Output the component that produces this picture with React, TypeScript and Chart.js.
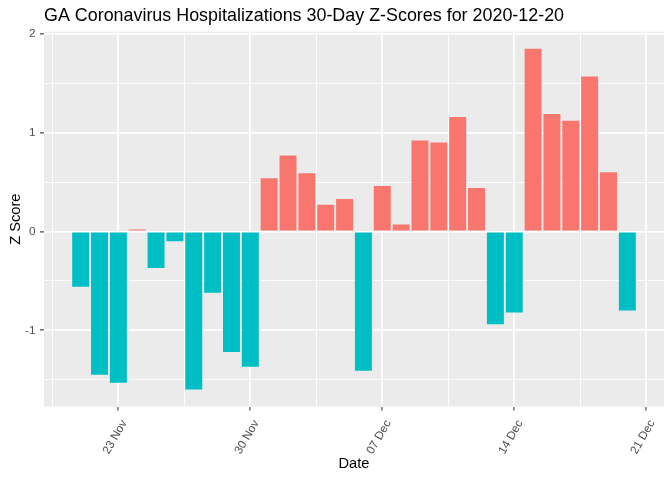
import React, { useEffect, useRef } from "react";
import { Chart, registerables } from "chart.js";

Chart.register(...registerables);

const TITLE = "GA Coronavirus Hospitalizations 30-Day Z-Scores for 2020-12-20";
const START_DATE = "2020-11-21";
const dates: string[] = [
  "2020-11-21", "2020-11-22", "2020-11-23", "2020-11-24", "2020-11-25",
  "2020-11-26", "2020-11-27", "2020-11-28", "2020-11-29", "2020-11-30",
  "2020-12-01", "2020-12-02", "2020-12-03", "2020-12-04", "2020-12-05",
  "2020-12-06", "2020-12-07", "2020-12-08", "2020-12-09", "2020-12-10",
  "2020-12-11", "2020-12-12", "2020-12-13", "2020-12-14", "2020-12-15",
  "2020-12-16", "2020-12-17", "2020-12-18", "2020-12-19", "2020-12-20",
];
const zScores: number[] = [
  -0.56, -1.45, -1.53, 0.02, -0.37,
  -0.10, -1.60, -0.62, -1.22, -1.37,
  0.54, 0.77, 0.59, 0.27, 0.33,
  -1.41, 0.46, 0.07, 0.92, 0.90,
  1.16, 0.44, -0.94, -0.82, 1.85,
  1.19, 1.12, 1.57, 0.60, -0.80,
];
const xTickDates: string[] = ["2020-11-23", "2020-11-30", "2020-12-07", "2020-12-14", "2020-12-21"];
const xTickLabels: string[] = ["23 Nov", "30 Nov", "07 Dec", "14 Dec", "21 Dec"];
const yTickValues: number[] = [-1.5, -1, -0.5, 0, 0.5, 1, 1.5, 2];
const yTickLabels: string[] = ["", "-1", "", "0", "", "1", "", "2"];

const POS_COLOR = "#F8766D";
const NEG_COLOR = "#00BFC4";

const DAY = 86400000;
const dayIndex = (d: string) =>
  Math.round((Date.parse(d + "T00:00:00Z") - Date.parse(START_DATE + "T00:00:00Z")) / DAY);

export default function App() {
  const ref = useRef<HTMLCanvasElement | null>(null);

  useEffect(() => {
    if (!ref.current) return;
    Chart.defaults.font.family = "'Liberation Sans', Arial, sans-serif";

    const xs = dates.map(dayIndex);
    const points = xs.map((x, i) => ({ x, y: zScores[i] }));
    const barHalf = 0.45;
    const xLo = Math.min(...xs) - barHalf;
    const xHi = Math.max(...xs) + barHalf;
    const xPad = (xHi - xLo) * 0.05;
    const yLo = Math.min(0, ...zScores);
    const yHi = Math.max(0, ...zScores);
    const yPad = (yHi - yLo) * 0.05;

    const majorX = xTickDates.map(dayIndex);
    const minorX: number[] = [];
    for (let i = 0; i < majorX.length; i++) {
      const m = majorX[i] - 3.5;
      if (m > xLo - xPad) minorX.push(m);
    }
    const xTickVals = [...majorX, ...minorX].sort((a, b) => a - b);
    const xLabelFor = (v: number) => {
      const k = majorX.indexOf(v);
      return k >= 0 ? xTickLabels[k] : "";
    };
    const yLabelFor = (v: number) => {
      const k = yTickValues.indexOf(v);
      return k >= 0 ? yTickLabels[k] : "";
    };

    const panelBg = {
      id: "panelBg",
      beforeDraw(chart: any) {
        const { ctx, chartArea, width, height } = chart;
        ctx.save();
        ctx.fillStyle = "#FFFFFF";
        ctx.fillRect(0, 0, width, height);
        ctx.fillStyle = "#EBEBEB";
        ctx.fillRect(chartArea.left, chartArea.top, chartArea.right - chartArea.left, chartArea.bottom - chartArea.top);
        ctx.restore();
      },
    };

    const chart = new Chart(ref.current, {
      type: "bar",
      data: {
        datasets: [
          {
            data: points as any,
            backgroundColor: zScores.map((v) => (v > 0 ? POS_COLOR : NEG_COLOR)),
            borderWidth: 0,
            barPercentage: 0.9,
            categoryPercentage: 1,
          },
        ],
      },
      options: {
        responsive: false,
        animation: false,
        devicePixelRatio: 1,
        layout: { padding: { left: 0, right: 8, top: 0, bottom: 0 } },
        plugins: {
          legend: { display: false },
          tooltip: { enabled: false },
          title: {
            display: true,
            text: TITLE,
            align: "start",
            fullSize: false,
            color: "#000000",
            font: { size: 17.9, weight: "normal" },
            padding: { top: 5.3, bottom: 4.9 },
          },
        },
        scales: {
          x: {
            type: "linear",
            min: xLo - xPad,
            max: xHi + xPad,
            offset: false,
            border: { display: false },
            grid: {
              offset: false,
              color: "#FFFFFF",
              lineWidth: (c: any) => (majorX.includes(c.tick?.value) ? 1.8 : 0.9),
              drawTicks: true,
              tickLength: 4,
              tickColor: (c: any) => (majorX.includes(c.tick?.value) ? "#333333" : "rgba(0,0,0,0)"),
              tickWidth: 1.1,
            },
            afterBuildTicks: (scale: any) => {
              scale.ticks = xTickVals.map((v) => ({ value: v }));
            },
            afterFit: (scale: any) => {
              scale.height = 73.4;
            },
            ticks: {
              autoSkip: false,
              minRotation: 60,
              maxRotation: 60,
              padding: 7,
              labelOffset: 6,
              color: "#4D4D4D",
              font: { size: 11.7 },
              callback: (v: any) => xLabelFor(Number(v)),
            },
            title: {
              display: true,
              text: "Date",
              color: "#000000",
              font: { size: 14.67 },
              padding: { top: 0, bottom: 7.2 },
            },
          },
          y: {
            type: "linear",
            min: yLo - yPad,
            max: yHi + yPad,
            border: { display: false },
            grid: {
              color: "#FFFFFF",
              lineWidth: (c: any) => (Number.isInteger(c.tick?.value) ? 1.8 : 0.9),
              drawTicks: true,
              tickLength: 4,
              tickColor: (c: any) => (Number.isInteger(c.tick?.value) ? "#333333" : "rgba(0,0,0,0)"),
              tickWidth: 1.1,
            },
            afterBuildTicks: (scale: any) => {
              scale.ticks = yTickValues.map((v) => ({ value: v }));
            },
            afterFit: (scale: any) => {
              scale.width = 44;
            },
            ticks: {
              autoSkip: false,
              padding: 4.5,
              color: "#4D4D4D",
              font: { size: 11.7 },
              callback: (v: any) => yLabelFor(Number(v)),
            },
            title: {
              display: true,
              text: "Z Score",
              color: "#000000",
              font: { size: 14.67 },
              padding: { top: 7.5, bottom: 0 },
            },
          },
        },
      },
      plugins: [panelBg],
    });

    return () => chart.destroy();
  }, []);

  return (
    <div style={{ position: "absolute", left: 0, top: 0, width: 672, height: 480, background: "#fff" }}>
      <canvas ref={ref} width={672} height={480} style={{ width: 672, height: 480, display: "block" }} />
    </div>
  );
}
